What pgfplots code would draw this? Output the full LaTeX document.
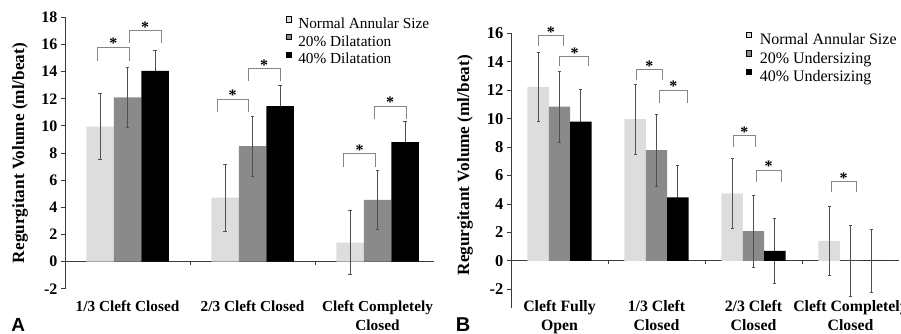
\documentclass[border=0pt]{standalone}
\usepackage{pgfplots}
\usepackage{pgfplotstable}
\pgfplotsset{compat=1.18}
\usepackage{fontspec}
\setmainfont{Liberation Serif}
\newfontfamily\sansbold{Liberation Sans}
\definecolor{cNorm}{HTML}{DDDDDD}
\definecolor{cMid}{HTML}{8A8A8A}
\definecolor{cErr}{HTML}{505050}
\definecolor{cBr}{HTML}{858585}
\definecolor{cAx}{HTML}{3A3A3A}

% left panel (A): dilatation  (x = category index + bar offset)
\pgfplotstableread{
x y e
-0.22 9.95 2.45
0.78 4.72 2.48
1.78 1.40 2.35
}\LN
\pgfplotstableread{
x y e
0 12.10 2.20
1 8.50 2.20
2 4.55 2.20
}\LM
\pgfplotstableread{
x y e
0.22 14.05 1.55
1.22 11.45 1.50
2.22 8.80 1.50
}\LK
% right panel (B): undersizing
\pgfplotstableread{
x y e
-0.22 12.24 2.45
0.78 9.97 2.47
1.78 4.74 2.47
2.78 1.41 2.45
}\RN
\pgfplotstableread{
x y e
0 10.84 2.50
1 7.79 2.52
2 2.09 2.52
3 0.00 2.49
}\RM
\pgfplotstableread{
x y e
0.22 9.78 2.26
1.22 4.46 2.23
2.22 0.70 2.28
3.22 0.00 2.23
}\RK

\newcommand{\brk}[5]{%
  \addplot[cBr, line width=1pt, forget plot] coordinates {(#1,#4) (#1,#3) (#2,#3) (#2,#4)};
  \node[ast] at (axis cs:#5,#3) {*};}

\tikzset{ast/.style={anchor=base, yshift=-1.5pt, inner sep=0pt, font=\bfseries\fontsize{16}{16}\selectfont}}
\pgfplotsset{
  panel/.style={
    scale only axis, clip=false,
    axis lines*=left,
    axis line style={cAx, line width=0.8pt},
    x axis line style={draw=none},
    xtick style={draw=none},
    xtick align=inside,
    ytick style={cAx, line width=0.8pt},
    ytick align=outside,
    major tick length=4pt,
    /pgf/number format/assume math mode=true,
    ylabel={Regurgitant Volume (ml/beat)},
    xticklabel style={align=center, anchor=north, inner sep=0pt},
    legend cell align=left,
  },
  sqleg/.style={legend image code/.code={\fill[##1] (0pt,2.4pt) rectangle (5.2pt,7.6pt); \path[draw=none,fill=none] (0pt,0pt) -- (#1,0pt);}},
  bars/.style={ybar, bar width=0.22, bar shift=0, draw=none, forget plot},
  errs/.style={draw=none, mark=none, forget plot,
    /pgfplots/error bars/y dir=both, /pgfplots/error bars/y explicit,
    /pgfplots/error bars/error bar style={draw=cErr, line width=0.7pt},
    /pgfplots/error bars/error mark options={rotate=90, draw=cErr, mark size=1.6pt, line width=0.7pt}},
}

\begin{document}
\begin{tikzpicture}
\useasboundingbox (0,0) rectangle (901pt,333pt);

% ---------------- Panel A ----------------
\begin{axis}[panel,
  at={(65pt,44.3pt)}, anchor=south west,
  width=375pt, height=271.4pt,
  xmin=-0.5, xmax=2.5, ymin=-2, ymax=18,
  ytick={-2,0,...,18},
  xtick={0,1,2},
  xticklabels={1/3 Cleft Closed, 2/3 Cleft Closed, {Cleft Completely\\Closed}},
  xticklabel style={font=\bfseries\fontsize{15.3}{19}\selectfont, yshift=-11.5pt},
  yticklabel style={font=\bfseries\fontsize{16}{18}\selectfont},
  ylabel style={font=\bfseries\fontsize{17.2}{18}\selectfont, at={(axis description cs:-0.12,0.5)}, anchor=center},
  legend style={at={(0.589,1.005)}, anchor=north west, draw=none, fill=none,
    inner sep=0pt, row sep=1.5pt,
    font=\fontsize{15.3}{18}\selectfont,
    nodes={font=\fontsize{15.3}{18}\selectfont}},
]
\addlegendimage{sqleg={10pt}, fill=cNorm}
\addlegendentry{Normal Annular Size}
\addlegendimage{sqleg={10pt}, fill=cMid}
\addlegendentry{20\% Dilatation}
\addlegendimage{sqleg={10pt}, fill=black}
\addlegendentry{40\% Dilatation}

\addplot[cAx, line width=0.8pt, forget plot] coordinates {(-0.5,0) (2.45,0)};
\addplot[cAx, line width=0.8pt, forget plot] coordinates {(0.5,0) (0.5,-0.25)};
\addplot[cAx, line width=0.8pt, forget plot] coordinates {(1.5,0) (1.5,-0.25)};

\addplot[bars, fill=cNorm] table[x=x, y=y] {\LN};
\addplot[errs] table[x=x, y=y, y error=e] {\LN};
\addplot[bars, fill=cMid] table[x=x, y=y] {\LM};
\addplot[errs] table[x=x, y=y, y error=e] {\LM};
\addplot[errs] table[x=x, y=y, y error=e] {\LK};
\addplot[bars, fill=black] table[x=x, y=y] {\LK};

\brk{-0.242}{0.014}{15.8}{14.8}{-0.114}
\brk{0.014}{0.268}{17.0}{16.1}{0.141}
\brk{0.716}{0.966}{11.95}{11.0}{0.841}
\brk{0.966}{1.22}{14.2}{13.3}{1.093}
\brk{1.727}{1.986}{7.93}{7.0}{1.857}
\brk{1.974}{2.228}{11.43}{10.47}{2.101}
\end{axis}

% ---------------- Panel B ----------------
\begin{axis}[panel,
  at={(511pt,24.7pt)}, anchor=south west,
  width=388pt, height=275pt,
  xmin=-0.5, xmax=3.5, ymin=-3.34, ymax=16,
  ytick={-2,0,...,16},
  xtick={0,1,2,3},
  xticklabels={{Cleft Fully\\Open}, {1/3 Cleft\\Closed}, {2/3 Cleft\\Closed}, {Cleft Completely\\Closed}},
  xticklabel style={font=\bfseries\fontsize{15.8}{19}\selectfont, yshift=7.9pt},
  yticklabel style={font=\bfseries\fontsize{16.5}{18}\selectfont},
  ylabel style={font=\bfseries\fontsize{17.2}{18}\selectfont, at={(axis description cs:-0.1186,0.52)}, anchor=center},
  legend style={at={(0.604,1.008)}, anchor=north west, draw=none, fill=none,
    inner sep=0pt, row sep=2pt,
    font=\fontsize{16}{18}\selectfont,
    nodes={font=\fontsize{16}{18}\selectfont}},
]
\addlegendimage{sqleg={12pt}, fill=cNorm}
\addlegendentry{Normal Annular Size}
\addlegendimage{sqleg={12pt}, fill=cMid}
\addlegendentry{20\% Undersizing}
\addlegendimage{sqleg={12pt}, fill=black}
\addlegendentry{40\% Undersizing}

\addplot[cAx, line width=0.8pt, forget plot] coordinates {(-0.5,0) (3.5,0)};
\addplot[cAx, line width=0.8pt, forget plot] coordinates {(0.5,0) (0.5,-0.25)};
\addplot[cAx, line width=0.8pt, forget plot] coordinates {(1.5,0) (1.5,-0.25)};
\addplot[cAx, line width=0.8pt, forget plot] coordinates {(2.5,0) (2.5,-0.25)};

\addplot[bars, fill=cNorm] table[x=x, y=y] {\RN};
\addplot[errs] table[x=x, y=y, y error=e] {\RN};
\addplot[bars, fill=cMid] table[x=x, y=y] {\RM};
\addplot[errs] table[x=x, y=y, y error=e] {\RM};
\addplot[errs] table[x=x, y=y, y error=e] {\RK};
\addplot[bars, fill=black] table[x=x, y=y] {\RK};

\brk{-0.219}{0.039}{15.84}{15.1}{-0.09}
\brk{0.005}{0.304}{14.36}{13.72}{0.155}
\brk{0.789}{1.064}{13.42}{12.72}{0.926}
\brk{1.026}{1.322}{12.01}{11.07}{1.174}
\brk{1.796}{2.019}{8.8}{8.02}{1.907}
\brk{2.026}{2.284}{6.38}{5.56}{2.155}
\brk{2.799}{3.057}{5.56}{4.86}{2.928}
\end{axis}

\node[anchor=base, font=\sansbold\bfseries\fontsize{19}{19}\selectfont] at (18.3pt,1.8pt) {A};
\node[anchor=base, font=\sansbold\bfseries\fontsize{20}{20}\selectfont] at (463pt,1.8pt) {B};
\end{tikzpicture}
\end{document}
